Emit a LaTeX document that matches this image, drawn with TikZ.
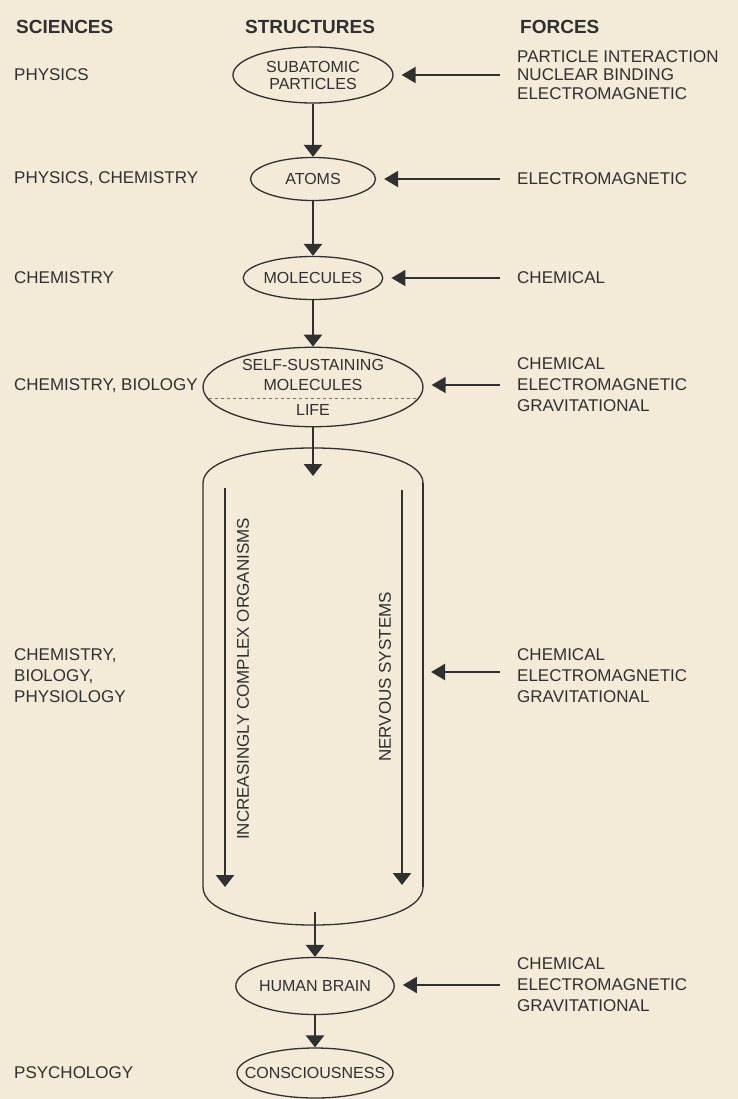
\documentclass[tikz,border=0pt]{standalone}
\usepackage{fontspec}
\setmainfont{Liberation Sans}
\usetikzlibrary{arrows.meta,shapes.geometric}
\definecolor{paper}{RGB}{243,234,216}
\definecolor{ink}{RGB}{48,48,48}
\newcommand{\txtsize}{\fontsize{17}{21}\selectfont}
\newcommand{\blobsize}{\fontsize{16}{20}\selectfont}
\newcommand{\headsize}{\fontsize{19}{22}\selectfont\bfseries}

\begin{document}
\begin{tikzpicture}[x=1pt,y=-1pt]
        \tikzset{
          lbl/.style={anchor=west,inner sep=0pt,align=left,text=ink,font=\txtsize},
          head/.style={anchor=west,inner sep=0pt,text=ink,font=\headsize},
          blob/.style={ellipse,draw=ink,line width=1.3pt,inner sep=0pt,align=center,text=ink,font=\blobsize},
          down/.style={draw=ink,line width=2.6pt,-{Triangle[width=18pt,length=12pt]}},
          push/.style={draw=ink,line width=2pt,-{Triangle[width=16pt,length=14pt]},shorten <=17pt,shorten >=8pt}
        };
        \fill[paper] (0,0) rectangle (738,1099);
        \useasboundingbox (0,0) rectangle (738,1099);
        % column heads
        \node[head] (hSci) at (16,27) {SCIENCES};
        \node[head] (hStr) at (245,27) {STRUCTURES};
        \node[head] (hFor) at (520,27) {FORCES};
        % structures
        \node[blob, minimum width=160, minimum height=56] (sub) at (313,75) {SUBATOMIC\\[-3pt]PARTICLES};
        \node[blob, minimum width=125, minimum height=43] (atoms) at (313,179) {ATOMS};
        \node[blob, minimum width=124, minimum height=43] (mol) at (313,278) {MOLECULES};
        \node[blob, minimum width=220, minimum height=77] (self) at (313,387) {SELF-SUSTAINING\\MOLECULES\\[5pt]LIFE};
        \draw[ink!70, dashed, line width=0.8pt] ([shift={(-104,11)}]self.center) -- ([shift={(104,11)}]self.center);
        \node[blob, minimum width=156, minimum height=57] (brain) at (315,986) {HUMAN BRAIN};
        \node[blob, inner xsep=-18pt, minimum width=156, minimum height=50] (mind) at (315,1073) {CONSCIOUSNESS};
        % the long capsule
        \draw[ink, line width=1.3pt] (203,887) -- (203,483) .. controls (203,436.3) and (423,436.3) .. (423,483)
        -- (423,887) .. controls (423,937.7) and (203,937.7) .. (203,887) -- cycle;
        \draw[ink, line width=2.4pt] (423,483) -- (423,887);
        \coordinate (capIn) at (313,476);
        \coordinate (capOut) at (315,912);
        \coordinate (capSide) at (423,672);
        \coordinate (orgTop) at (225,488);
        \coordinate (orgEnd) at (225,887);
        \coordinate (nerTop) at (402,490);
        \coordinate (nerEnd) at (402,885);
        \draw[down, line width=2.4pt] (orgTop) -- (orgEnd);
        \draw[down, line width=2.4pt] (nerTop) -- (nerEnd);
        \node[lbl, anchor=center, rotate=90] (orgTxt) at (243,679) {INCREASINGLY COMPLEX ORGANISMS};
        \node[lbl, anchor=center, rotate=90] (nerTxt) at (385,677) {NERVOUS SYSTEMS};
        % sciences
        \node[lbl] (sPhys) at (14,75) {PHYSICS};
        \node[lbl] (sPhCh) at (14,179) {PHYSICS, CHEMISTRY};
        \node[lbl] (sChem) at (14,278) {CHEMISTRY};
        \node[lbl] (sChBi) at (14,386) {CHEMISTRY, BIOLOGY};
        \node[lbl] (sPhysio) at (14,676) {CHEMISTRY,\\BIOLOGY,\\PHYSIOLOGY};
        \node[lbl] (sPsy) at (14,1073) {PSYCHOLOGY};
        % forces
        \node[lbl, font=\fontsize{17}{18.5}\selectfont] (fSub) at (517,75) {PARTICLE INTERACTION\\NUCLEAR BINDING\\ELECTROMAGNETIC};
        \node[lbl] (fAtoms) at (517,179) {ELECTROMAGNETIC};
        \node[lbl] (fMol) at (517,278) {CHEMICAL};
        \node[lbl] (fSelf) at (517,385) {CHEMICAL\\ELECTROMAGNETIC\\GRAVITATIONAL};
        \node[lbl] (fOrg) at (517,676) {CHEMICAL\\ELECTROMAGNETIC\\GRAVITATIONAL};
        \node[lbl] (fBrain) at (517,985) {CHEMICAL\\ELECTROMAGNETIC\\GRAVITATIONAL};
        % downward chain
        \draw[down] (sub) -- (atoms);
        \draw[down] (atoms) -- (mol);
        \draw[down] (mol) -- (self);
        \draw[down] (self) -- (capIn);
        \draw[down] (capOut) -- (brain);
        \draw[down] (brain) -- (mind);
        % forces acting on each level
        \draw[push] (fSub.west) -- (fSub.west -| sub.east);
        \draw[push] (fAtoms.west) -- (fAtoms.west -| atoms.east);
        \draw[push] (fMol.west) -- (fMol.west -| mol.east);
        \draw[push] (fSelf.west) -- (fSelf.west -| self.east);
        \draw[push] (fOrg.west |- capSide) -- (capSide);
        \draw[push] (fBrain.west) -- (fBrain.west -| brain.east);
\end{tikzpicture}
\end{document}
